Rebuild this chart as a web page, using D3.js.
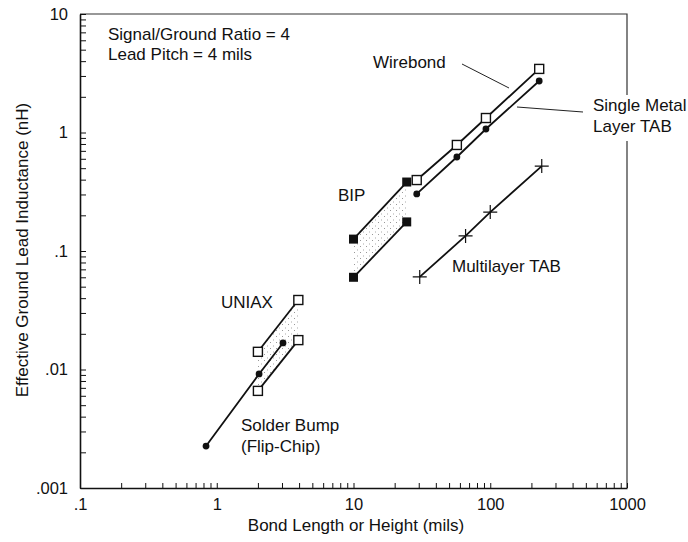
<!DOCTYPE html>
<html>
<head>
<meta charset="utf-8">
<script src="https://cdn.jsdelivr.net/npm/d3@7"></script>
<style>
  body { margin: 0; background: #fff; }
  svg { display: block; font-family: "Liberation Sans", Arial, Helvetica, sans-serif; }
  .axis text { font-size: 16.5px; fill: #111; }
  .axis path, .axis line { stroke: #111; }
</style>
</head>
<body>
<div id="root"></div>
<script>
// ---- data (bond length in mils, inductance in nH) ----
let wirebondX = [29, 57, 93, 228];
let wirebondY = [0.397, 0.785, 1.325, 3.44];
let singleTabX = [29, 57, 93, 228];
let singleTabY = [0.303, 0.621, 1.07, 2.72];
let multiTabX = [30.5, 66, 100, 238];
let multiTabY = [0.0604, 0.134, 0.213, 0.521];
let bipUpperX = [10, 24.5];
let bipUpperY = [0.126, 0.382];
let bipLowerX = [10, 24.5];
let bipLowerY = [0.060, 0.176];
let uniaxUpperX = [2, 3.95];
let uniaxUpperY = [0.0141, 0.0386];
let uniaxLowerX = [2, 3.95];
let uniaxLowerY = [0.0066, 0.0177];
let solderX = [0.835, 2.04, 3.05];
let solderY = [0.00226, 0.00917, 0.01675];

let xTickLabels = ['.1', '1', '10', '100', '1000'];
let yTickLabels = ['.001', '.01', '.1', '1', '10'];

const W = 688, H = 542;
const mLeft = 80, mRight = 627, mTop = 14, mBottom = 488;

const svg = d3.select('#root').append('svg')
    .attr('width', W)
    .attr('height', H);

// stipple pattern for the shaded bands
let defs = svg.append('defs');
let pat = defs.append('pattern')
    .attr('id', 'stipple')
    .attr('width', 6).attr('height', 6)
    .attr('patternUnits', 'userSpaceOnUse');
pat.append('rect').attr('x', 0).attr('y', 0).attr('width', 1).attr('height', 1).attr('fill', '#999');
pat.append('rect').attr('x', 3).attr('y', 3.5).attr('width', 1).attr('height', 1).attr('fill', '#aaa');

let x = d3.scaleLog().domain([0.1, 1000]).range([mLeft, mRight]);
let y = d3.scaleLog().domain([0.001, 10]).range([mBottom, mTop]);

// minor + major tick values
function logTicks(lo, hi) {
    let t = [];
    for (let e = lo; e < hi; e++) {
        for (let m = 1; m < 10; m++) t.push(m * Math.pow(10, e));
    }
    t.push(Math.pow(10, hi));
    return t;
}
let xTicks = logTicks(-1, 3);
let yTicks = logTicks(-3, 1);

function decadeLabel(labels, lo) {
    return function (d) {
        let e = Math.log10(d);
        if (Math.abs(e - Math.round(e)) < 1e-9) return labels[Math.round(e) - lo];
        return '';
    };
}

// frame (top + right), right side broken by the label
svg.append('path')
    .attr('d', 'M' + mLeft + ',' + mTop + 'H' + mRight + 'V' + mBottom)
    .attr('fill', 'none')
    .attr('stroke', '#333')
    .attr('stroke-width', 1.2);

svg.append('g')
    .attr('class', 'axis')
    .attr('transform', 'translate(0,' + mBottom + ')')
    .call(d3.axisBottom(x).tickValues(xTicks).tickSize(-5).tickSizeOuter(0).tickPadding(10)
        .tickFormat(decadeLabel(xTickLabels, -1)))
    .call(g => g.select('.domain').attr('stroke-width', 1.6));

svg.append('g')
    .attr('class', 'axis')
    .attr('transform', 'translate(' + mLeft + ',0)')
    .call(d3.axisLeft(y).tickValues(yTicks).tickSize(-6).tickSizeOuter(0).tickPadding(12)
        .tickFormat(decadeLabel(yTickLabels, -3)))
    .call(g => g.select('.domain').attr('stroke-width', 1.6));

// axis titles
svg.append('text')
    .attr('x', 356)
    .attr('y', 531)
    .attr('text-anchor', 'middle')
    .attr('font-size', 17)
    .attr('fill', '#111')
    .text('Bond Length or Height (mils)');

svg.append('text')
    .attr('transform', 'translate(28,250) rotate(-90)')
    .attr('text-anchor', 'middle')
    .attr('font-size', 17)
    .attr('fill', '#111')
    .text('Effective Ground Lead Inductance (nH)');

// shaded bands
function band(ux, uy, lx, ly) {
    let pts = ux.map((v, i) => [x(v), y(uy[i])]);
    for (let i = lx.length - 1; i >= 0; i--) pts.push([x(lx[i]), y(ly[i])]);
    svg.append('polygon')
        .attr('points', pts.map(p => p.join(',')).join(' '))
        .attr('fill', 'url(#stipple)')
        .attr('stroke', 'none');
}
band(bipUpperX, bipUpperY, bipLowerX, bipLowerY);
band(uniaxUpperX, uniaxUpperY, uniaxLowerX, uniaxLowerY);

let line = d3.line().x(d => x(d[0])).y(d => y(d[1]));

function series(xs, ys, marker) {
    let pts = xs.map((v, i) => [v, ys[i]]);
    svg.append('path')
        .datum(pts)
        .attr('d', line)
        .attr('fill', 'none')
        .attr('stroke', '#111')
        .attr('stroke-width', 1.8);
    let g = svg.append('g');
    pts.forEach(p => {
        let cx = x(p[0]), cy = y(p[1]);
        if (marker === 'openSquare') {
            g.append('rect').attr('x', cx - 4.5).attr('y', cy - 4.5).attr('width', 9).attr('height', 9)
                .attr('fill', '#fff').attr('stroke', '#111').attr('stroke-width', 1.4);
        } else if (marker === 'filledSquare') {
            g.append('rect').attr('x', cx - 4.5).attr('y', cy - 4.5).attr('width', 9).attr('height', 9)
                .attr('fill', '#111');
        } else if (marker === 'dot') {
            g.append('circle').attr('cx', cx).attr('cy', cy).attr('r', 3.4).attr('fill', '#111');
        } else if (marker === 'plus') {
            g.append('path').attr('d', 'M' + (cx - 7) + ',' + cy + 'H' + (cx + 7) + 'M' + cx + ',' + (cy - 7) + 'V' + (cy + 7))
                .attr('stroke', '#111').attr('stroke-width', 1.2);
        }
    });
}

series(singleTabX, singleTabY, 'dot');
series(wirebondX, wirebondY, 'openSquare');
series(multiTabX, multiTabY, 'plus');
series(bipUpperX, bipUpperY, 'filledSquare');
series(bipLowerX, bipLowerY, 'filledSquare');
series(solderX, solderY, 'dot');
series(uniaxUpperX, uniaxUpperY, 'openSquare');
series(uniaxLowerX, uniaxLowerY, 'openSquare');

// annotations
svg.append('rect').attr('x', 588).attr('y', 95).attr('width', 100).attr('height', 46).attr('fill', '#fff');

function label(tx, ty, str) {
    svg.append('text').attr('x', tx).attr('y', ty).attr('font-size', 17).attr('fill', '#111').text(str);
}
label(108, 40, 'Signal/Ground Ratio = 4');
label(108, 60, 'Lead Pitch = 4 mils');
label(373, 68, 'Wirebond');
label(593, 111, 'Single Metal');
label(593, 132, 'Layer TAB');
label(338, 201, 'BIP');
label(452, 272, 'Multilayer TAB');
label(221, 308, 'UNIAX');
label(241, 431, 'Solder Bump');
label(241, 452, '(Flip-Chip)');

// leader lines
svg.append('path').attr('d', 'M462,64L509,88').attr('stroke', '#222').attr('stroke-width', 1).attr('fill', 'none');
svg.append('path').attr('d', 'M517,107L583,112').attr('stroke', '#222').attr('stroke-width', 1).attr('fill', 'none');
</script>
</body>
</html>
